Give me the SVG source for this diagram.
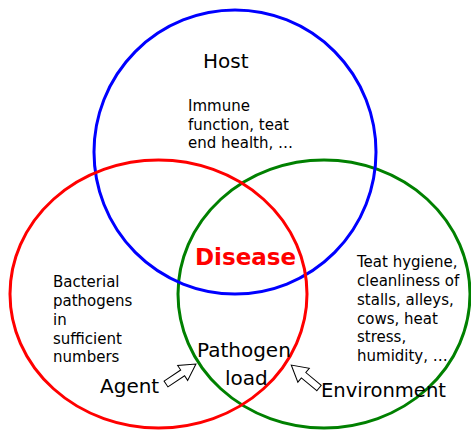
<svg xmlns="http://www.w3.org/2000/svg" width="471" height="430" viewBox="0 0 471 430">
<style>
.c{fill:none;stroke-width:3}
.big{font-family:"DejaVu Sans","Liberation Sans",sans-serif;font-size:20px;fill:#000}
.sm{font-family:"DejaVu Sans","Liberation Sans",sans-serif;font-size:15px;fill:#000}
.arr{fill:#fff;stroke:#000;stroke-width:1}
</style>
<rect width="471" height="430" fill="#fff"/>
<g id="environment-set"><ellipse class="c" cx="324" cy="294" rx="146" ry="134" stroke="#008000"/></g>
<g id="host-set"><ellipse class="c" cx="235" cy="152" rx="141" ry="142" stroke="#0000ff"/></g>
<g id="agent-set"><ellipse class="c" cx="158.5" cy="294" rx="148.5" ry="134" stroke="#ff0000"/></g>
<g id="host">
<text class="big" x="203" y="68">Host</text>
<text class="sm" x="188" y="111">Immune</text>
<text class="sm" x="188" y="129.5">function, teat</text>
<text class="sm" x="188" y="148">end health, …</text>
</g>
<g id="agent">
<text class="sm" x="53" y="287">Bacterial</text>
<text class="sm" x="53" y="306">pathogens</text>
<text class="sm" x="53" y="325">in</text>
<text class="sm" x="53" y="343.5">sufficient</text>
<text class="sm" x="53" y="362">numbers</text>
<text class="big" x="100" y="393">Agent</text>
</g>
<g id="environment">
<text class="sm" x="357" y="267">Teat hygiene,</text>
<text class="sm" x="357" y="286">cleanliness of</text>
<text class="sm" x="357" y="305">stalls, alleys,</text>
<text class="sm" x="357" y="323.5">cows, heat</text>
<text class="sm" x="357" y="342">stress,</text>
<text class="sm" x="357" y="360.5">humidity, …</text>
<text class="big" x="321" y="397" textLength="125" lengthAdjust="spacingAndGlyphs">Environment</text>
</g>
<g id="disease">
<text x="195" y="265" font-family="'DejaVu Sans','Liberation Sans',sans-serif" font-size="23" font-weight="bold" fill="#ff0000">Disease</text>
</g>
<g id="pathogen-load">
<text class="big" x="197" y="357">Pathogen</text>
<text class="big" x="225" y="385">load</text>
</g>
<g id="connectors">
<polygon class="arr" points="0,-3.5 20,-3.5 20,-9 36,0 20,9 20,3.5 0,3.5" transform="translate(166,384) rotate(-33.7)"/>
<polygon class="arr" points="0,-3.5 20,-3.5 20,-9 36,0 20,9 20,3.5 0,3.5" transform="translate(319,388) rotate(-140.4)"/>
</g>
</svg>
